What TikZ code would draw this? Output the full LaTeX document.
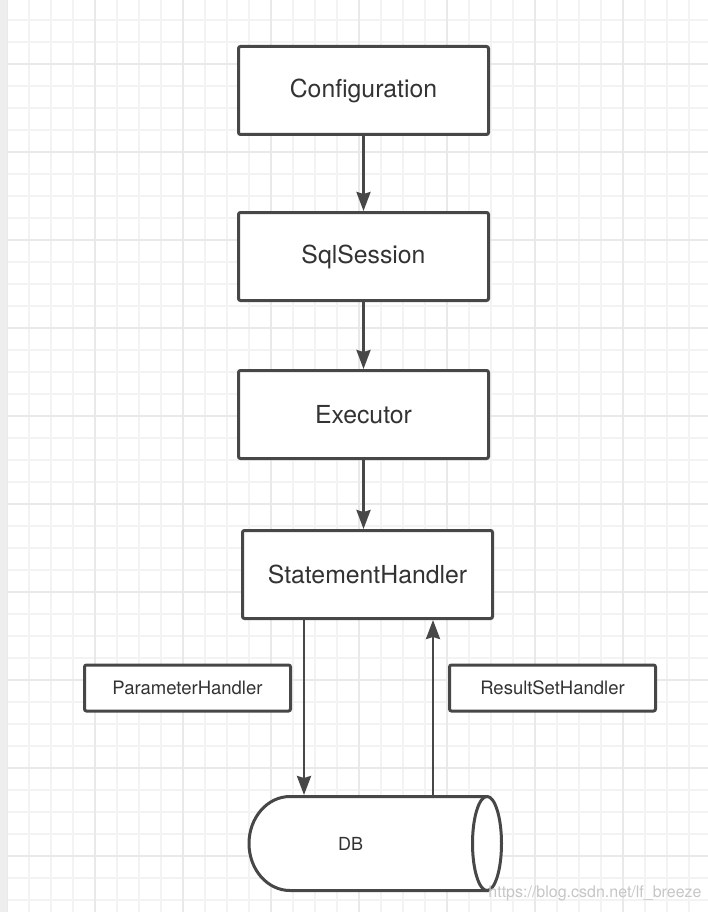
\documentclass[tikz,border=0pt]{standalone}
\usepackage{fontspec}
\setmainfont{TeX Gyre Heros}
\usetikzlibrary{positioning,arrows.meta}
\definecolor{linegray}{HTML}{474747}
\definecolor{textgray}{HTML}{333333}
\definecolor{minorgrid}{HTML}{F3F3F3}
\definecolor{majorgrid}{HTML}{E9E9E9}
\definecolor{edgegray}{HTML}{EEEEEE}
\tikzset{
    >={Stealth[length=19pt,width=14pt,inset=2pt]},
    mainbox/.style={
        rectangle,
        rounded corners=2pt,
        draw=linegray, line width=3pt,
        fill=white,
        minimum width=250pt,
        minimum height=88pt,
        text=textgray,
        font=\fontsize{24.8}{28}\selectfont
    },
    sidebox/.style={
        mainbox,
        minimum width=206pt,
        minimum height=46pt,
        font=\fontsize{18.5}{22}\selectfont
    },
    dbnode/.style={
        inner sep=0pt, outer sep=0pt,
        minimum height=97pt,
        text=textgray,
        font=\fontsize{18}{22}\selectfont
    },
    line/.style={draw=linegray, line width=2.7pt, ->},
    cylline/.style={draw=linegray, line width=3pt, fill=white}
}
\begin{document}
\begin{tikzpicture}[x=1pt, y=-1pt]
    \useasboundingbox (0,0) rectangle (708,912);
    \fill[white] (0,0) rectangle (708,912);
    % paper grid
    \foreach \k in {0,...,31}
        \draw[minorgrid, line width=2pt] (7+22*\k,0) -- (7+22*\k,912);
    \foreach \k in {0,...,40}
        \draw[minorgrid, line width=2pt] (0,20+22*\k) -- (708,20+22*\k);
    \foreach \k in {0,...,7}
        \draw[majorgrid, line width=2pt] (7+88*\k,0) -- (7+88*\k,912);
    \foreach \k in {0,...,9}
        \draw[majorgrid, line width=2pt] (0,64+88*\k) -- (708,64+88*\k);
    \fill[edgegray] (0,0) rectangle (7,912);

    \node[mainbox] (conf) at (363.5,90.5) {Configuration};
    \node[mainbox, below=75pt of conf] (sql) {SqlSession};
    \node[mainbox, below=67pt of sql] (exec) {Executor};
    \node[mainbox, below=69pt of exec, xshift=4pt] (stmt) {StatementHandler};
    \node[sidebox] (param) at (187.5,688) {ParameterHandler};
    \node[sidebox] (result) at (552.5,688) {ResultSetHandler};

    % DB cylinder
    \path[cylline] (290,796.5) -- (487,796.5) -- (487,890.5) -- (290,890.5)
        arc[start angle=90, end angle=270, x radius=41, y radius=47] -- cycle;
    \draw[cylline] (487,843.5) ellipse[x radius=14.5, y radius=47];
    \node[dbnode] (db) at (350.5,843.5) {DB};

    \draw[line] (conf) -- (sql);
    \draw[line] (sql) -- (exec);
    \draw[line] (exec.south) -- (exec.south |- stmt.north);
    \draw[line] ([xshift=-63.5pt]stmt.south) -- ([xshift=-63.5pt]stmt.south |- db.north);
    \draw[line] ([xshift=65.5pt]stmt.south |- db.north) -- ([xshift=65.5pt]stmt.south);

    \node[text=gray!45, font=\fontsize{16}{18}\selectfont] (mark) at (595,893) {https://blog.csdn.net/lf\_breeze};
\end{tikzpicture}
\end{document}
